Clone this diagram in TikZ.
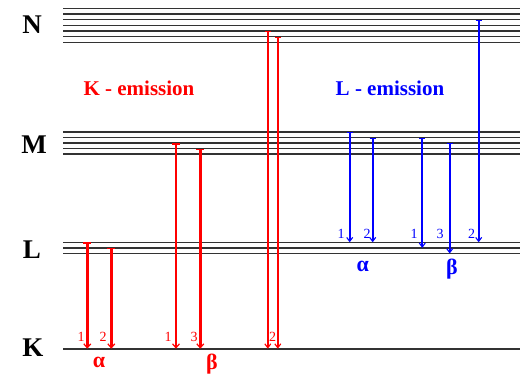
\documentclass[tikz,border=0pt]{standalone}
\usepackage{fontspec}
\setmainfont{Liberation Serif}
\usetikzlibrary{arrows.meta}
\begin{document}
\begin{tikzpicture}[x=1pt,y=-1pt,
  level/.style={line width=1.6pt, black!80},
  lvlab/.style={font=\fontsize{27}{27}\selectfont\bfseries},
  ttl/.style={font=\fontsize{21}{21}\selectfont\bfseries},
  num/.style={font=\fontsize{14}{14}\selectfont, inner sep=0pt},
  grk/.style={font=\fontsize{22}{22}\selectfont\bfseries, inner sep=0pt},
  kline/.style={red, line width=2.6pt, {Bar[width=8pt,line width=1.5pt]}-{Straight Barb[length=4pt,width=7pt,line width=1.2pt]}},
  kthin/.style={red, line width=1.6pt, {Bar[width=6pt,line width=1.2pt]}-{Straight Barb[length=4pt,width=6pt,line width=1.1pt]}},
  lline/.style={blue, line width=1.8pt, {Bar[width=6pt,line width=1.2pt]}-{Straight Barb[length=4pt,width=6pt,line width=1.1pt]}}
]
\useasboundingbox (0,0) rectangle (520,381);
\fill[white] (0,0) rectangle (520,381);
% levels
\foreach \i in {0,...,6} {
  \coordinate (N\i w) at (63,{8.3+5.67*\i});
  \coordinate (N\i e) at (520,{8.3+5.67*\i});
  \draw[level] (N\i w) -- (N\i e);
}
\foreach \i in {0,...,4} {
  \coordinate (M\i w) at (63,{132+5.55*\i});
  \coordinate (M\i e) at (520,{132+5.55*\i});
  \draw[level] (M\i w) -- (M\i e);
}
\foreach \i in {0,...,2} {
  \coordinate (L\i w) at (63,{242.3+5.6*\i});
  \coordinate (L\i e) at (520,{242.3+5.6*\i});
  \draw[level] (L\i w) -- (L\i e);
}
\coordinate (K0w) at (63,348.7);
\coordinate (K0e) at (520,348.7);
\draw[level] (K0w) -- (K0e);
% level labels
\node[lvlab] (labN) at (32,25) {N};
\node[lvlab] (labM) at (34,145) {M};
\node[lvlab] (labL) at (32,250) {L};
\node[lvlab] (labK) at (33,348) {K};
% titles
\node[ttl, red] (tK) at (139,88) {K - emission};
\node[ttl, blue] (tL) at (390,88) {L - emission};
% K series
\coordinate (ka1t) at (87.3,242.3);  \coordinate (ka1b) at (87.3,348.7);
\coordinate (ka2t) at (111.3,247.9); \coordinate (ka2b) at (111.3,348.7);
\coordinate (kb1t) at (176,143.1);   \coordinate (kb1b) at (176,348.7);
\coordinate (kb3t) at (200.3,148.7); \coordinate (kb3b) at (200.3,348.7);
\coordinate (kb2at) at (267.8,31);   \coordinate (kb2ab) at (267.8,348.7);
\coordinate (kb2bt) at (277.8,36.7); \coordinate (kb2bb) at (277.8,348.7);
\draw[kline] (ka1t) -- (ka1b);
\draw[kline] (ka2t) -- (ka2b);
\draw[kline] (kb1t) -- (kb1b);
\draw[kline] (kb3t) -- (kb3b);
\draw[kthin] (kb2at) -- (kb2ab);
\draw[kthin] (kb2bt) -- (kb2bb);
\node[num, red] (nka1) at (81,337) {1};
\node[num, red] (nka2) at (103,337) {2};
\node[num, red] (nkb1) at (168,337) {1};
\node[num, red] (nkb3) at (194,337) {3};
\node[num, red] (nkb2) at (272.5,337) {2};
\node[grk, red] (gka) at (99,362) {α};
\node[grk, red] (gkb) at (212,364) {β};
% L series
\coordinate (la1t) at (349.7,132);   \coordinate (la1b) at (349.7,242.3);
\coordinate (la2t) at (372.7,137.5); \coordinate (la2b) at (372.7,242.3);
\coordinate (lb1t) at (422.3,137.5); \coordinate (lb1b) at (422.3,247.9);
\coordinate (lb3t) at (449.7,143.1); \coordinate (lb3b) at (449.7,253.5);
\coordinate (lb2t) at (478.7,19.6);  \coordinate (lb2b) at (478.7,242.3);
\draw[lline] (la1t) -- (la1b);
\draw[lline] (la2t) -- (la2b);
\draw[lline] (lb1t) -- (lb1b);
\draw[lline] (lb3t) -- (lb3b);
\draw[lline] (lb2t) -- (lb2b);
\node[num, blue] (nla1) at (341,234) {1};
\node[num, blue] (nla2) at (367,234) {2};
\node[num, blue] (nlb1) at (414,234) {1};
\node[num, blue] (nlb3) at (440,234) {3};
\node[num, blue] (nlb2) at (471.7,234) {2};
\node[grk, blue] (gla) at (362.7,266) {α};
\node[grk, blue] (glb) at (452,269) {β};
\end{tikzpicture}
\end{document}
